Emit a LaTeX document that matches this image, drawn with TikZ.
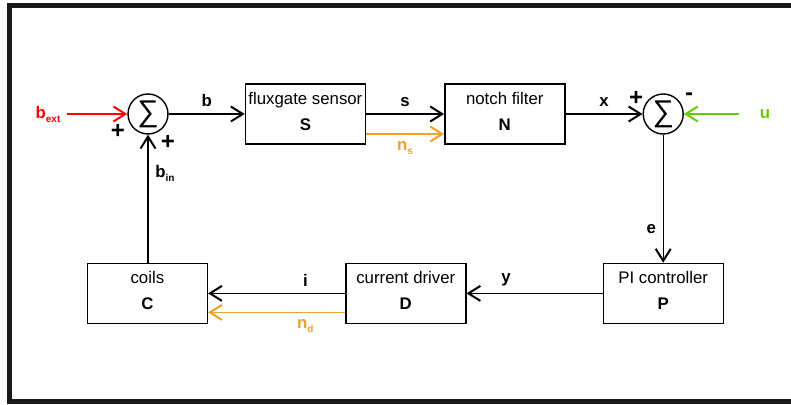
\documentclass[tikz,border=0pt]{standalone}
\usepackage{fontspec}
\setmainfont{Liberation Sans}
\usetikzlibrary{arrows.meta,positioning}
\definecolor{extred}{HTML}{FF0000}
\definecolor{noise}{HTML}{F0A030}
\definecolor{refgreen}{HTML}{66CC00}
\definecolor{framegray}{HTML}{1A1A1A}
\newcommand{\sigsub}[2]{\textbf{#1}\raisebox{-0.45ex}{\fontsize{5}{5}\selectfont\textbf{#2}}}

\begin{document}
\begin{tikzpicture}[x=0.5pt, y=-0.5pt, font=\fontsize{8.4}{13}\selectfont,
  block/.style={draw, line width=0.7pt, minimum width=60pt, minimum height=30pt,
    align=center, inner sep=0pt, text depth=3pt},
  sumnode/.style={draw, circle, line width=0.7pt, minimum size=20pt, inner sep=0pt,
    font=\fontsize{15}{15}\selectfont},
  conn/.style={line width=0.7pt, -{Straight Barb[length=6pt, width=7.5pt, line width=1pt]}},
  sign/.style={font=\fontsize{12}{12}\selectfont\bfseries, inner sep=0pt}]
  \useasboundingbox (0,0) rectangle (791,405);
  \draw[framegray, line width=2.5pt] (800,5.5) -- (9,5.5) -- (9,401) -- (800,401);

  % forward path
  \node[sumnode] (sum1) at (148,114) {∑};
  \node[block, right=38pt of sum1] (S) {fluxgate sensor\\\textbf{S}};
  \node[block, right=39pt of S] (N) {notch filter\\\textbf{N}};
  \node[sumnode, right=38.5pt of N] (sum2) {∑};
  % return path
  \node[block, below=64pt of sum2] (P) {PI controller\\\textbf{P}};
  \node[block, left=68pt of P] (D) {current driver\\\textbf{D}};
  \node[block, left=68.5pt of D] (C) {coils\\\textbf{C}};

  % inputs and signs
  \node[text=extred] (bext) at (48,114) {\sigsub{b}{ext}};
  \node[text=refgreen] (u) at (765,114) {\textbf{u}};
  \node[sign] (plusA) at (118,131) {+};
  \node[sign] (plusB) at (168,142) {+};
  \node[sign] (plusC) at (636,98) {+};
  \node[sign] (minusC) at (689,97) {-};

  \draw[conn, extred] (bext) -- (sum1);
  \draw[conn, refgreen] ([xshift=-7pt]u.west) -- (sum2);
  \draw[conn] (sum1) -- node[above] {\textbf{b}} (S);
  \draw[conn] (S) -- node[above] {\textbf{s}} (N);
  \draw[conn, noise] ([yshift=-10pt]S.east) -- node[below] {\sigsub{n}{s}} ([yshift=-10pt]N.west);
  \draw[conn] (N) -- node[above] {\textbf{x}} (sum2);
  \draw[conn] (sum2) -- node[left, pos=0.74] {\textbf{e}} (P.north -| sum2);
  \draw[conn] (P) -- node[above, pos=0.71] {\textbf{y}} (D);
  \draw[conn] (D) -- node[above, pos=0.29] {\textbf{i}} (C);
  \draw[conn, noise] ([yshift=-9.5pt]D.west) -- node[below, pos=0.29] {\sigsub{n}{d}} ([yshift=-9.5pt]C.east);
  \draw[conn] (C.north -| sum1) -- node[right, pos=0.7] {\sigsub{b}{in}} (sum1);
\end{tikzpicture}
\end{document}
